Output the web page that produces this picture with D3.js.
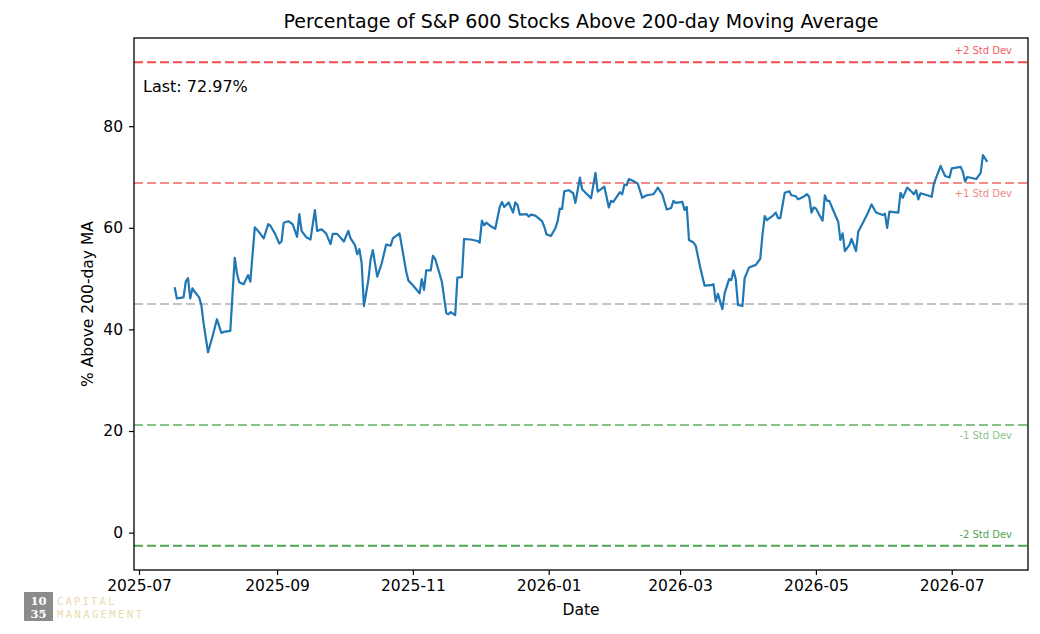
<!DOCTYPE html>
<html>
<head>
<meta charset="utf-8">
<script src="https://cdn.jsdelivr.net/npm/d3@7"></script>
<style>
  body { margin: 0; background: #fff; }
  svg { display: block; font-family: "DejaVu Sans", sans-serif; }
</style>
</head>
<body>
<svg class="chart" width="1040" height="634"></svg>
<script>
// values
var dates = [
  "2025-07-17","2025-07-18","2025-07-21","2025-07-22","2025-07-23","2025-07-24","2025-07-25","2025-07-26","2025-07-28","2025-07-29",
  "2025-07-30","2025-08-01","2025-08-03","2025-08-05","2025-08-07","2025-08-08","2025-08-11","2025-08-13","2025-08-14","2025-08-15",
  "2025-08-17","2025-08-19","2025-08-20","2025-08-22","2025-08-24","2025-08-26","2025-08-28","2025-08-29","2025-08-31","2025-09-02",
  "2025-09-03","2025-09-04","2025-09-06","2025-09-08","2025-09-10","2025-09-11","2025-09-12","2025-09-14","2025-09-16","2025-09-18",
  "2025-09-19","2025-09-21","2025-09-23","2025-09-25","2025-09-26","2025-09-28","2025-10-01","2025-10-03","2025-10-04","2025-10-06",
  "2025-10-07","2025-10-08","2025-10-09","2025-10-10","2025-10-12","2025-10-13","2025-10-14","2025-10-16","2025-10-18","2025-10-20",
  "2025-10-22","2025-10-23","2025-10-26","2025-10-29","2025-10-30","2025-11-01","2025-11-04","2025-11-05","2025-11-06","2025-11-07",
  "2025-11-09","2025-11-10","2025-11-11","2025-11-14","2025-11-16","2025-11-17","2025-11-18","2025-11-20","2025-11-21","2025-11-23",
  "2025-11-24","2025-11-27","2025-11-30","2025-12-01","2025-12-02","2025-12-03","2025-12-04","2025-12-06","2025-12-08","2025-12-10",
  "2025-12-11","2025-12-12","2025-12-14","2025-12-16","2025-12-17","2025-12-18","2025-12-19","2025-12-22","2025-12-23","2025-12-24",
  "2025-12-26","2025-12-29","2025-12-30","2025-12-31","2026-01-02","2026-01-04","2026-01-05","2026-01-06","2026-01-07","2026-01-08",
  "2026-01-10","2026-01-12","2026-01-13","2026-01-14","2026-01-15","2026-01-16","2026-01-20","2026-01-22","2026-01-23","2026-01-26",
  "2026-01-28","2026-01-29","2026-01-30","2026-02-02","2026-02-03","2026-02-04","2026-02-05","2026-02-06","2026-02-08","2026-02-10",
  "2026-02-12","2026-02-14","2026-02-17","2026-02-18","2026-02-19","2026-02-21","2026-02-23","2026-02-25","2026-02-26","2026-02-27",
  "2026-03-02","2026-03-03","2026-03-04","2026-03-05","2026-03-07","2026-03-08","2026-03-10","2026-03-12","2026-03-15","2026-03-16",
  "2026-03-17","2026-03-18","2026-03-20","2026-03-21","2026-03-23","2026-03-24","2026-03-25","2026-03-26","2026-03-27","2026-03-29",
  "2026-03-30","2026-04-01","2026-04-04","2026-04-06","2026-04-07","2026-04-08","2026-04-09","2026-04-12","2026-04-13","2026-04-14",
  "2026-04-15","2026-04-17","2026-04-19","2026-04-20","2026-04-22","2026-04-23","2026-04-25","2026-04-27","2026-04-28","2026-04-29",
  "2026-04-30","2026-05-01","2026-05-04","2026-05-05","2026-05-06","2026-05-07","2026-05-09","2026-05-11","2026-05-12","2026-05-13",
  "2026-05-14","2026-05-16","2026-05-17","2026-05-19","2026-05-20","2026-05-22","2026-05-24","2026-05-26","2026-05-28","2026-05-31",
  "2026-06-01","2026-06-02","2026-06-03","2026-06-07","2026-06-08","2026-06-09","2026-06-11","2026-06-13","2026-06-14","2026-06-15",
  "2026-06-16","2026-06-17","2026-06-20","2026-06-22","2026-06-23","2026-06-26","2026-06-28","2026-06-30","2026-07-01","2026-07-05",
  "2026-07-06","2026-07-07","2026-07-08","2026-07-10","2026-07-12","2026-07-14","2026-07-15","2026-07-17"
];
var pctAbove = [
  48.3,46.1,46.3,49.4,50.1,46.1,48.1,47.4,46.3,44.8,
  41.2,35.5,38.6,42.0,39.3,39.5,39.7,54.1,51.0,49.3,
  48.9,50.7,49.4,60.1,59.1,57.9,60.7,60.4,58.9,56.9,
  57.3,61.0,61.3,60.7,58.2,62.7,59.4,58.2,57.7,63.5,
  59.4,59.7,58.9,56.8,58.8,58.8,57.3,59.4,57.9,56.6,
  54.8,55.8,53.0,44.6,49.7,53.7,55.6,50.4,53.0,56.7,
  56.5,57.9,58.9,51.4,49.6,48.7,47.1,49.9,47.8,51.6,
  51.6,54.5,53.9,49.4,43.2,43.0,43.4,42.8,50.2,50.3,
  57.8,57.7,57.4,57.1,61.4,60.5,61.0,60.3,59.8,64.1,
  65.1,64.1,65.0,63.0,65.0,64.5,62.6,62.7,62.2,62.6,
  62.4,61.3,60.2,58.7,58.4,59.9,61.3,63.8,63.7,67.2,
  67.4,66.8,64.9,67.4,69.9,67.6,65.8,70.8,67.1,68.1,
  64.0,65.3,65.1,67.0,66.6,68.5,68.4,69.6,69.2,68.7,
  65.9,66.4,66.6,67.2,67.9,66.6,63.6,63.9,65.3,64.9,
  65.1,63.5,64.1,57.6,57.1,56.5,52.3,48.6,48.7,48.9,
  45.5,47.0,44.0,47.1,49.9,49.7,51.6,49.9,44.8,44.6,
  50.1,52.2,52.7,53.9,58.6,62.3,61.5,62.5,63.0,61.9,
  61.9,66.9,67.2,66.4,66.2,65.6,66.0,66.6,66.1,63.0,
  64.0,63.8,61.4,66.4,65.3,65.3,63.2,61.2,57.6,58.9,
  55.4,56.6,57.8,55.4,59.2,60.9,62.6,64.6,63.0,62.5,
  62.8,60.0,63.2,63.0,66.9,65.9,67.9,67.1,66.6,67.4,
  65.6,66.8,66.4,66.1,68.7,72.2,70.2,69.9,71.7,72.0,
  71.0,69.1,70.0,69.8,69.6,70.8,74.3,72.97
];

// mean / std dev reference lines
var bandNames = ["+2 Std Dev", "+1 Std Dev", "", "-1 Std Dev", "-2 Std Dev"];
var bandLevels = [92.6, 68.8, 45.0, 21.2, -2.6];
var bandColors = ["#f04d4d", "#f58a8a", "#c4c4c4", "#86c386", "#4da64d"];
var bandTextColors = ["#ee6060", "#f08888", "#ccc", "#8cc28c", "#4fa34f"];

var yTicks = [0, 20, 40, 60, 80];
var xTickFormat = "%Y-%m";

var svg = d3.select("svg.chart");
var margin = {left: 134, top: 38, right: 1028, bottom: 570};

var parse = d3.utcParse("%Y-%m-%d");
var series = dates.map(function(d, i){ return {date: parse(d), value: pctAbove[i]}; });

// matplotlib style 5% padding on both axes
var xExt = d3.extent(series, function(d){ return d.date; });
var xPad = (xExt[1] - xExt[0]) * 0.05;
var x = d3.scaleUtc()
    .domain([new Date(+xExt[0] - xPad), new Date(+xExt[1] + xPad)])
    .range([margin.left, margin.right]);

var yExt = d3.extent(bandLevels);
var yPad = (yExt[1] - yExt[0]) * 0.05;
var y = d3.scaleLinear()
    .domain([yExt[0] - yPad, yExt[1] + yPad])
    .range([margin.bottom, margin.top]);

// reference lines
var bands = svg.append("g").attr("class", "bands");
bands.selectAll("line")
    .data(bandLevels)
    .enter().append("line")
    .attr("x1", margin.left)
    .attr("x2", margin.right)
    .attr("y1", function(d){ return y(d); })
    .attr("y2", function(d){ return y(d); })
    .attr("stroke", function(d,i){ return bandColors[i]; })
    .attr("stroke-width", 2)
    .attr("stroke-dasharray", "9,4");

// +2 and -2 labels sit above their line, +1 and -1 below
bands.selectAll("text")
    .data(bandLevels)
    .enter().append("text")
    .attr("x", margin.right - 16)
    .attr("y", function(d,i){ return (i == 0 || i == 4) ? y(d) - 8 : y(d) + 14; })
    .attr("text-anchor", "end")
    .attr("font-size", 10)
    .attr("fill", function(d,i){ return bandTextColors[i]; })
    .text(function(d,i){ return bandNames[i]; });

// data line
var line = d3.line()
    .x(function(d){ return x(d.date); })
    .y(function(d){ return y(d.value); });

svg.append("path")
    .datum(series)
    .attr("fill", "none")
    .attr("stroke", "#1f77b4")
    .attr("stroke-width", 2.2)
    .attr("stroke-linejoin", "round")
    .attr("d", line);

// axes
var xAxis = svg.append("g")
    .attr("transform", "translate(0," + margin.bottom + ")")
    .call(d3.axisBottom(x).ticks(d3.utcMonth.every(2)).tickFormat(d3.utcFormat(xTickFormat)).tickSizeOuter(0).tickSize(5).tickPadding(5));
var yAxis = svg.append("g")
    .attr("transform", "translate(" + margin.left + ",0)")
    .call(d3.axisLeft(y).tickValues(yTicks).tickSizeOuter(0).tickSize(5).tickPadding(6));

[xAxis, yAxis].forEach(function(a){
    a.selectAll("text").attr("font-size", 15.5).attr("fill", "#000").attr("font-family", "DejaVu Sans");
    a.selectAll("line").attr("stroke", "#000").attr("stroke-width", 1.2);
    a.select(".domain").remove();
});

// frame
svg.append("rect")
    .attr("x", margin.left)
    .attr("y", margin.top)
    .attr("width", margin.right - margin.left)
    .attr("height", margin.bottom - margin.top)
    .attr("fill", "none")
    .attr("stroke", "#000")
    .attr("stroke-width", 1.3);

// texts
svg.append("text")
    .attr("x", (margin.left + margin.right) / 2)
    .attr("y", 28)
    .attr("text-anchor", "middle")
    .attr("font-size", 19)
    .text("Percentage of S&P 600 Stocks Above 200-day Moving Average");

svg.append("text")
    .attr("x", (margin.left + margin.right) / 2)
    .attr("y", 615)
    .attr("text-anchor", "middle")
    .attr("font-size", 15.5)
    .text("Date");

svg.append("text")
    .attr("transform", "translate(93," + ((margin.top + margin.bottom) / 2) + ") rotate(-90)")
    .attr("text-anchor", "middle")
    .attr("font-size", 15.5)
    .text("% Above 200-day MA");

svg.append("text")
    .attr("x", margin.left + 9)
    .attr("y", 92)
    .attr("font-size", 16)
    .text("Last: " + d3.format(".2f")(pctAbove[pctAbove.length - 1]) + "%");

// watermark
var logo = svg.append("g").attr("opacity", 0.9);
logo.append("rect").attr("x", 24).attr("y", 592).attr("width", 29).attr("height", 29).attr("fill", "#7f7f7f");
logo.append("text").attr("x", 38.5).attr("y", 605).attr("text-anchor", "middle")
    .attr("font-family", "DejaVu Serif").attr("font-weight", "bold").attr("font-size", 11.5).attr("fill", "#fff").text("10");
logo.append("text").attr("x", 38.5).attr("y", 618).attr("text-anchor", "middle")
    .attr("font-family", "DejaVu Serif").attr("font-weight", "bold").attr("font-size", 11.5).attr("fill", "#fff").text("35");
logo.append("text").attr("x", 57).attr("y", 605).attr("font-family", "DejaVu Sans Mono").attr("font-size", 10.5)
    .attr("letter-spacing", 2.2).attr("fill", "#e8d8a6").text("CAPITAL");
logo.append("text").attr("x", 57).attr("y", 618).attr("font-family", "DejaVu Sans Mono").attr("font-size", 10.5)
    .attr("letter-spacing", 2.4).attr("fill", "#e8d8a6").text("MANAGEMENT");
</script>
</body>
</html>
